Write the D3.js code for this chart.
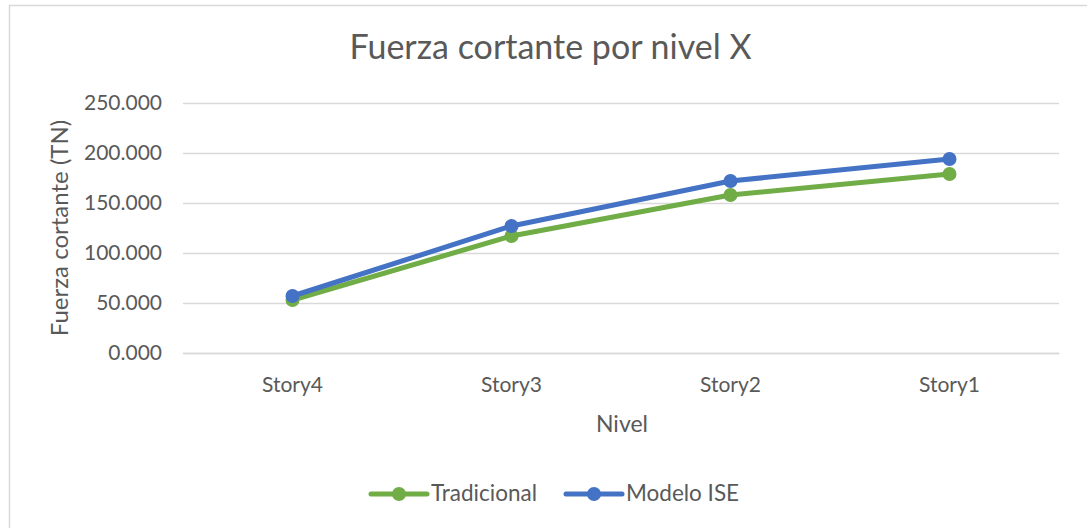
<!DOCTYPE html>
<html>
<head>
<meta charset="utf-8">
<script src="https://cdn.jsdelivr.net/npm/d3@7"></script>
<style>
  html, body { margin: 0; padding: 0; background: #fff; }
  svg { display: block; }
  text { font-family: Lato, "Open Sans", sans-serif; fill: #595959; }
</style>
</head>
<body>
<svg id="chart" width="1087" height="528"></svg>
<script>
const categories = ["Story4", "Story3", "Story2", "Story1"];
const tradicional = [53, 117, 158, 179];
const modeloISE = [57, 127, 172, 194];
const yTicks = [0, 50, 100, 150, 200, 250];
const seriesNames = ["Tradicional", "Modelo ISE"];
const seriesColors = ["#70AD47", "#4472C4"];

const svg = d3.select("#chart");
const W = 1087, H = 528;

svg.append("rect").attr("x", 9.5).attr("y", 5.5).attr("width", W).attr("height", H)
  .attr("fill", "#fff").attr("stroke", "#D9D9D9").attr("stroke-width", 1.5);

const plot = { left: 183, right: 1059, top: 103, bottom: 353 };

const x = d3.scaleBand().domain(categories).range([plot.left, plot.right]);
const y = d3.scaleLinear().domain([0, 250]).range([plot.bottom, plot.top]);

// gridlines
svg.append("g").selectAll("line").data(yTicks).join("line")
  .attr("x1", plot.left).attr("x2", plot.right)
  .attr("y1", d => Math.round(y(d)) + 0.5).attr("y2", d => Math.round(y(d)) + 0.5)
  .attr("stroke", "#D9D9D9").attr("stroke-width", 1.3);

// y axis
const yAxis = svg.append("g").attr("transform", `translate(${plot.left},0)`)
  .call(d3.axisLeft(y).tickValues(yTicks).tickFormat(d3.format(".3f")).tickSize(0).tickPadding(21));
yAxis.select(".domain").remove();
yAxis.selectAll("text").style("font-size", "21px").attr("fill", "#595959")
  .attr("font-family", "Lato, 'Open Sans', sans-serif");

// x axis
const xAxis = svg.append("g").attr("transform", `translate(0,${plot.bottom})`)
  .call(d3.axisBottom(x).tickSize(0).tickPadding(24));
xAxis.select(".domain").attr("stroke", "#D9D9D9").attr("stroke-width", 1.3);
xAxis.selectAll("text").style("font-size", "21px").attr("fill", "#595959")
  .attr("font-family", "Lato, 'Open Sans', sans-serif");

// title
svg.append("text").attr("x", 550.5).attr("y", 59).attr("text-anchor", "middle")
  .style("font-size", "34px").text("Fuerza cortante por nivel X");

// axis titles
svg.append("text").attr("x", 622).attr("y", 432).attr("text-anchor", "middle")
  .style("font-size", "23px").text("Nivel");
svg.append("text").attr("transform", "translate(68,228) rotate(-90)").attr("text-anchor", "middle")
  .style("font-size", "24px").text("Fuerza cortante (TN)");

// lines
const data = [tradicional, modeloISE];
const line = d3.line().x((d, i) => x(categories[i]) + x.bandwidth() / 2).y(d => y(d));
data.forEach((vals, s) => {
  svg.append("path").datum(vals).attr("d", line).attr("fill", "none")
    .attr("stroke", seriesColors[s]).attr("stroke-width", 5).attr("stroke-linejoin", "round").attr("stroke-linecap", "round");
  svg.append("g").selectAll("circle").data(vals).join("circle")
    .attr("cx", (d, i) => x(categories[i]) + x.bandwidth() / 2).attr("cy", d => y(d))
    .attr("r", 7).attr("fill", seriesColors[s]);
});

// legend
const legendItems = [{ x0: 371, tx: 431 }, { x0: 566, tx: 626 }];
legendItems.forEach((li, s) => {
  const g = svg.append("g");
  g.append("line").attr("x1", li.x0).attr("x2", li.x0 + 56).attr("y1", 494).attr("y2", 494)
    .attr("stroke", seriesColors[s]).attr("stroke-width", 5).attr("stroke-linecap", "round");
  g.append("circle").attr("cx", li.x0 + 28).attr("cy", 494).attr("r", 7).attr("fill", seriesColors[s]);
  g.append("text").attr("x", li.tx).attr("y", 501).style("font-size", "22.5px").text(seriesNames[s]);
});
</script>
</body>
</html>
